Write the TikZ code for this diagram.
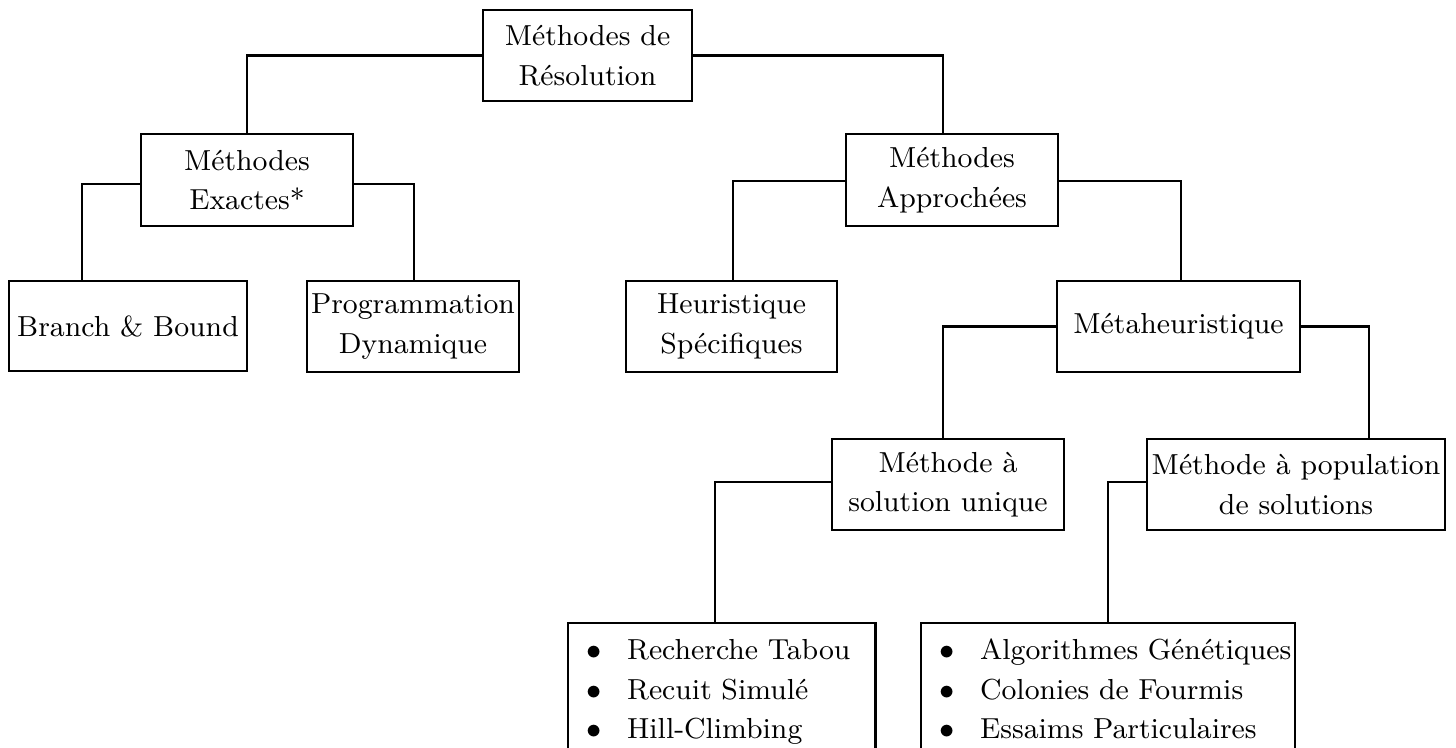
\documentclass[tikz,border=0pt]{standalone}
\usepackage{fontspec}
\usetikzlibrary{calc}
\tikzset{
  every node/.style={font=\fontsize{8.8pt}{12pt}\selectfont},
  box/.style={draw, line width=0.7pt, rectangle, align=center, inner sep=1pt,
              minimum height=27.7pt},
  listbox/.style={draw, line width=0.7pt, rectangle, anchor=north west,
                  inner xsep=5.5pt, inner ysep=2.7pt, align=left},
  link/.style={draw, line width=0.7pt}
}
\newcommand{\itemrow}[1]{$\bullet$ & #1\\}
\begin{document}
\begin{tikzpicture}[x=0.304pt, y=-0.304pt]
  \useasboundingbox (0,0) rectangle (1456,747);
  \clip (0,0) rectangle (1456,747);

  % tree nodes
  \node[box, minimum width=63.5pt] (root) at (587.5,55.5) {Méthodes de\\Résolution};
  \node[box, minimum width=64.4pt, minimum height=28pt] (exa) at (247,180) {Méthodes\\Exactes*};
  \node[box, minimum width=64.4pt, minimum height=28pt] (app) at (952,180) {Méthodes\\Approchées};
  \node[box, minimum width=72.4pt, minimum height=27.4pt] (bb) at (128,326) {Branch \& Bound};
  \node[box, minimum width=64.4pt] (prog) at (413,326.5) {Programmation\\Dynamique};
  \node[box, minimum width=64.1pt] (heur) at (731.5,326.5) {Heuristique\\Spécifiques};
  \node[box, minimum width=73.9pt] (meta) at (1178.5,326.5) {Métaheuristique};
  \node[box, minimum width=70.5pt] (sol) at (948,484.5) {Méthode à\\solution unique};
  \node[box, minimum width=90.6pt] (pop) at (1296,484.5) {Méthode à population\\de solutions};

  % method lists
  \node[listbox, text width=82.4pt] (lsol) at (567,622) {%
    \begin{tabular}{@{}c@{\hspace{7.8pt}}l@{}}
      \itemrow{Recherche Tabou}
      \itemrow{Recuit Simulé}
      \itemrow{Hill-Climbing}
    \end{tabular}};
  \node[listbox, text width=102.7pt] (lpop) at (920,622) {%
    \begin{tabular}{@{}c@{\hspace{7.8pt}}l@{}}
      \itemrow{Algorithmes Génétiques}
      \itemrow{Colonies de Fourmis}
      \itemrow{Essaims Particulaires}
    \end{tabular}};

  % connectors
  \draw[link] (root.west) -| (exa.north);
  \draw[link] (root.east) -| ($(app.north)+(-9,0)$);
  \draw[link] ($(exa.west)+(0,4)$) -| ($(bb.north)+(-46,0)$);
  \draw[link] ($(exa.east)+(0,4)$) -| ($(prog.north)+(1,0)$);
  \draw[link] ($(app.west)+(0,1)$) -| ($(heur.north)+(1.5,0)$);
  \draw[link] ($(app.east)+(0,1)$) -| ($(meta.north)+(2.5,0)$);
  \draw[link] (meta.west) -| ($(sol.north)+(-5,0)$);
  \draw[link] (meta.east) -| ($(pop.north)+(73,0)$);
  \draw[link] ($(sol.west)+(0,-2.5)$) -| ($(lsol.north)+(-6.5,0)$);
  \draw[link] ($(pop.west)+(0,-2.5)$) -| (lpop.north);
\end{tikzpicture}
\end{document}
